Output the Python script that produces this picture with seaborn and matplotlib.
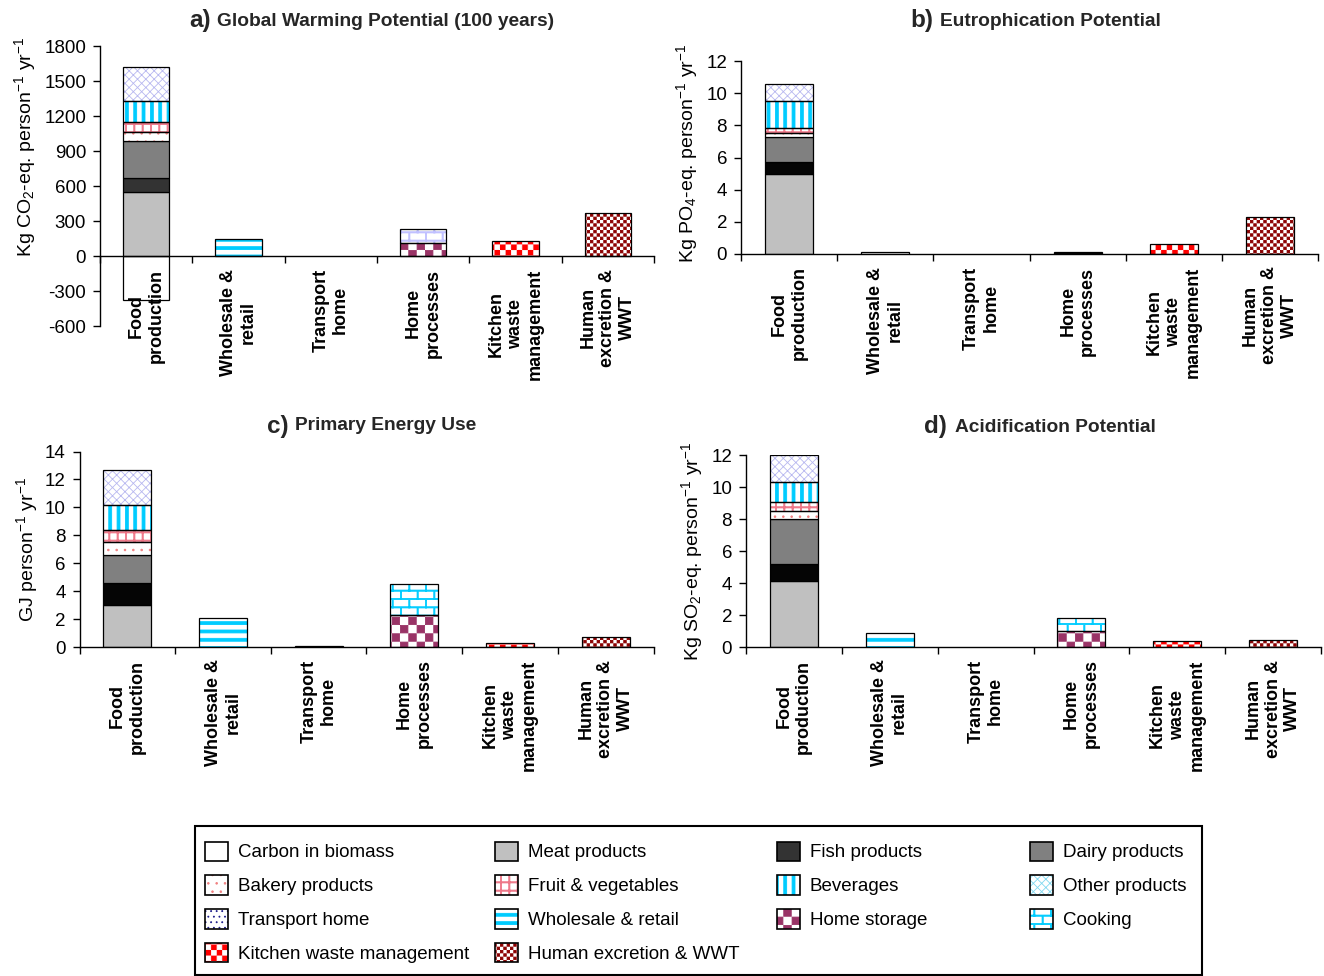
import numpy as np
import pandas as pd
import seaborn as sns
import matplotlib
matplotlib.use("Agg")
import matplotlib.pyplot as plt
import matplotlib.hatch as mhatch
from matplotlib.path import Path
from matplotlib.patches import Patch, Rectangle

# ---------------- data ----------------
stages = ["Food\nproduction", "Wholesale &\nretail", "Transport\nhome",
          "Home\nprocesses", "Kitchen\nwaste\nmanagement", "Human\nexcretion &\nWWT"]

components = ["Carbon in biomass", "Meat products", "Fish products", "Dairy products",
              "Bakery products", "Fruit & vegetables", "Beverages", "Other products",
              "Transport home", "Wholesale & retail", "Home storage", "Cooking",
              "Kitchen waste management", "Human excretion & WWT"]

# food production breakdown: carbon, meat, fish, dairy, bakery, fruit&veg, beverages, other
gwp_food = [-377, 545, 120, 325, 75, 80, 180, 295]
ep_food = [0, 5.0, 0.7, 1.55, 0.25, 0.35, 1.65, 1.05]
pe_food = [0, 3.03, 1.53, 2.03, 0.96, 0.86, 1.74, 2.51]
ap_food = [0, 4.1, 1.09, 2.83, 0.48, 0.58, 1.22, 1.7]

# downstream: transport home, wholesale & retail, home storage, cooking, kitchen waste, human excretion
gwp_chain = [0, 150, 110, 120, 131, 366]
ep_chain = [0, 0.15, 0.05, 0.05, 0.6, 2.3]
pe_chain = [0.1, 2.07, 2.26, 2.26, 0.29, 0.71]
ap_chain = [0, 0.875, 1.02, 0.77, 0.4, 0.45]

chain_stage = [2, 1, 3, 3, 4, 5]


def build_frame(food, chain):
    rows = []
    for comp, v in zip(components[:8], food):
        rows.append((0, comp, v))
    for comp, st, v in zip(components[8:], chain_stage, chain):
        rows.append((st, comp, v))
    return pd.DataFrame(rows, columns=["stage", "component", "value"])


# ---------------- custom filled hatches ----------------
HLW_PT = 0.6                       # global hatch stroke width (points)
INSET = HLW_PT / 72.0 / 2.0        # compensate stroke in unit-tile coords (tile = 1 inch)

RECT_CODES = [Path.MOVETO, Path.LINETO, Path.LINETO, Path.LINETO, Path.CLOSEPOLY]


def put_rect(vertices, codes, k, x0, y0, x1, y1):
    x0 += INSET; y0 += INSET; x1 -= INSET; y1 -= INSET
    vertices[k:k + 5] = [(x0, y0), (x1, y0), (x1, y1), (x0, y1), (x0, y0)]
    codes[k:k + 5] = RECT_CODES
    return k + 5


class CheckerHatch(mhatch.HatchPatternBase):          # '*'
    def __init__(self, hatch, density):
        n = int(hatch.count("*") * density)
        n += n % 2
        self.n = n
        self.num_vertices = (n * n // 2) * 5 if n else 0

    def set_vertices_and_codes(self, vertices, codes):
        s = 1.0 / self.n
        k = 0
        for i in range(self.n):
            for j in range(self.n):
                if (i + j) % 2 == 0:
                    k = put_rect(vertices, codes, k, i * s, j * s, (i + 1) * s, (j + 1) * s)


class VStripeHatch(mhatch.HatchPatternBase):          # '|'
    frac = 0.45

    def __init__(self, hatch, density):
        self.n = int(hatch.count("|") * density)
        self.num_vertices = self.n * 5

    def set_vertices_and_codes(self, vertices, codes):
        k = 0
        for i in range(self.n):
            x0 = i / self.n
            k = put_rect(vertices, codes, k, x0, -0.01, x0 + self.frac / self.n, 1.01)


class HStripeHatch(mhatch.HatchPatternBase):          # '-'
    frac = 0.45

    def __init__(self, hatch, density):
        self.n = int(hatch.count("-") * density)
        self.num_vertices = self.n * 5

    def set_vertices_and_codes(self, vertices, codes):
        k = 0
        for i in range(self.n):
            y0 = i / self.n
            k = put_rect(vertices, codes, k, -0.01, y0, 1.01, y0 + self.frac / self.n)


class GridHatch(mhatch.HatchPatternBase):             # '+'
    lw = 0.02

    def __init__(self, hatch, density):
        self.n = int(hatch.count("+") * density)
        self.num_vertices = self.n * 10

    def set_vertices_and_codes(self, vertices, codes):
        k = 0
        for i in range(self.n):
            p = i / self.n
            k = put_rect(vertices, codes, k, p, -0.01, p + self.lw, 1.01)
            k = put_rect(vertices, codes, k, -0.01, p, 1.01, p + self.lw)


class BrickHatch(mhatch.HatchPatternBase):            # 'o'
    lw = 0.02

    def __init__(self, hatch, density):
        n = int(hatch.count("o") * density)
        n += n % 2
        self.n = n
        self.num_vertices = (n * 5 + n * (n // 2) * 5) if n else 0

    def set_vertices_and_codes(self, vertices, codes):
        h = 1.0 / self.n
        k = 0
        for r in range(self.n):
            y = r * h
            k = put_rect(vertices, codes, k, -0.01, y, 1.01, y + self.lw)
            for c in range(self.n // 2):
                x = c * 2 * h + (r % 2) * h
                k = put_rect(vertices, codes, k, x, y, x + self.lw, y + h)


mhatch._hatch_types = [mhatch.NorthEastHatch, mhatch.SouthEastHatch,
                       mhatch.SmallFilledCircles, mhatch.LargeCircles,
                       CheckerHatch, VStripeHatch, HStripeHatch, GridHatch, BrickHatch]

# ---------------- style ----------------
sns.set_theme(style="ticks")
plt.rcParams["font.family"] = ["Liberation Sans", "DejaVu Sans"]
plt.rcParams["mathtext.fontset"] = "custom"
plt.rcParams["mathtext.rm"] = "Liberation Sans"
plt.rcParams["mathtext.it"] = "Liberation Sans:italic"
plt.rcParams["mathtext.bf"] = "Liberation Sans:bold"
plt.rcParams["axes.unicode_minus"] = False
plt.rcParams["hatch.linewidth"] = HLW_PT

styles = {
    "Carbon in biomass": dict(fc="white"),
    "Meat products": dict(fc="#C0C0C0"),
    "Fish products": dict(fc="#050505"),
    "Dairy products": dict(fc="#808080"),
    "Bakery products": dict(fc="white", hatch="..", hc="#F08080"),
    "Fruit & vegetables": dict(fc="white", hatch="++", hc="#EE7788"),
    "Beverages": dict(fc="white", hatch="||", hc="#00CCFF"),
    "Other products": dict(fc="white", hatch="xxxx", hc="#B8B8F0"),
    "Transport home": dict(fc="white", hatch="...", hc="#1F1F8C"),
    "Wholesale & retail": dict(fc="white", hatch="--", hc="#00CCFF"),
    "Home storage": dict(fc="white", hatch="**", hc="#993366"),
    "Cooking": dict(fc="white", hatch="oo", hc="#00CCFF"),
    "Kitchen waste management": dict(fc="#FF0000", hatch="***", hc="white"),
    "Human excretion & WWT": dict(fc="white", hatch="*****", hc="#8B0000"),
}
legend_override = {"Fish products": dict(fc="#333333"),
                   "Other products": dict(fc="white", hatch="xxxx", hc="#80D8F0")}
panel_a_override = {"Fish products": dict(fc="#333333"),
                    "Cooking": dict(fc="white", hatch="oo", hc="#C0C0FF")}


def draw_segment(ax, x, bottom, height, st):
    if st.get("hatch"):
        ax.bar(x, height, bottom=bottom, width=0.5, color=st["fc"],
               edgecolor=st["hc"], hatch=st["hatch"], linewidth=0, zorder=1)
        ax.bar(x, height, bottom=bottom, width=0.5, fill=False,
               edgecolor="black", linewidth=0.9, zorder=1.5)
    else:
        ax.bar(x, height, bottom=bottom, width=0.5, color=st["fc"],
               edgecolor="black", linewidth=0.9, zorder=1)


fig = plt.figure(figsize=(13.24, 9.76), dpi=100)
W, H = 1324.0, 976.0

panels = [
    dict(food=gwp_food, chain=gwp_chain, rect=(100, 46, 654, 326), ylim=(-600, 1800),
         yticks=np.arange(-600, 1801, 300),
         ylabel=r"Kg CO$_2$-eq. person$^{-1}$ yr$^{-1}$", ylab=(-0.112, 0.64),
         tl="a)", tt="Global Warming Potential (100 years)", tpos=(211, 217, 21), over=panel_a_override),
    dict(food=ep_food, chain=ep_chain, rect=(741, 61, 1318, 254), ylim=(0, 12),
         yticks=np.arange(0, 13, 2),
         ylabel=r"Kg PO$_4$-eq. person$^{-1}$ yr$^{-1}$", ylab=(-0.071, 0.52),
         tl="b)", tt="Eutrophication Potential", tpos=(933, 940, 21), over={}),
    dict(food=pe_food, chain=pe_chain, rect=(79.5, 451.5, 653.5, 647), ylim=(0, 14),
         yticks=np.arange(0, 15, 2),
         ylabel=r"GJ person$^{-1}$ yr$^{-1}$", ylab=(-0.069, 0.5),
         tl="c)", tt="Primary Energy Use", tpos=(289, 295, 426), over={}),
    dict(food=ap_food, chain=ap_chain, rect=(746, 455, 1321, 647), ylim=(0, 12),
         yticks=np.arange(0, 13, 2),
         ylabel=r"Kg SO$_2$-eq. person$^{-1}$ yr$^{-1}$", ylab=(-0.071, 0.5),
         tl="d)", tt="Acidification Potential", tpos=(947, 955, 427), over={}),
]

for p in panels:
    x0, y0, x1, y1 = p["rect"]
    ax = fig.add_axes([x0 / W, 1 - y1 / H, (x1 - x0) / W, (y1 - y0) / H])
    sns.despine(ax=ax)
    ax.spines["bottom"].set_position(("data", 0))
    for s in ("left", "bottom"):
        ax.spines[s].set_color("black")
        ax.spines[s].set_linewidth(1)
    ax.set_facecolor("white")
    ax.set_axisbelow(False)

    df = build_frame(p["food"], p["chain"])
    for st_idx in range(len(stages)):
        sub = df[df["stage"] == st_idx]
        pos = 0.0
        for _, r in sub.iterrows():
            v = r["value"]
            if v == 0:
                continue
            st = dict(styles[r["component"]])
            st.update(p["over"].get(r["component"], {}))
            if v < 0:
                draw_segment(ax, st_idx, 0, v, st)
            else:
                draw_segment(ax, st_idx, pos, v, st)
                pos += v
    ax.set_xlim(-0.5, len(stages) - 0.5)
    ax.set_ylim(*p["ylim"])
    ax.set_yticks(p["yticks"])
    ax.set_yticklabels([str(int(t)) for t in p["yticks"]], fontsize=13.5, color="black")
    ax.set_xticks(range(len(stages)))
    ax.set_xticklabels(stages, rotation=90, fontsize=13, fontweight="bold",
                       ha="center", va="top", multialignment="center", color="black")
    ax.set_xticks(np.arange(-0.5, len(stages), 1.0), minor=True)
    ax.tick_params(axis="x", which="major", length=0, pad=9)
    ax.tick_params(axis="x", which="minor", length=5, width=1, direction="out", color="black")
    ax.tick_params(axis="y", length=5, width=1, direction="out", pad=5, color="black")
    ax.set_ylabel(p["ylabel"], fontsize=14, color="black")
    ax.yaxis.set_label_coords(*p["ylab"])
    xr, xl, ty = p["tpos"]
    fig.text(xr / W, 1 - ty / H, p["tl"], ha="right", va="center", fontsize=17.5, fontweight="bold")
    fig.text(xl / W, 1 - ty / H, p["tt"], ha="left", va="center", fontsize=13.8, fontweight="bold")

# ---------------- legend ----------------
columns = [
    ["Carbon in biomass", "Bakery products", "Transport home", "Kitchen waste management"],
    ["Meat products", "Fruit & vegetables", "Wholesale & retail", "Human excretion & WWT"],
    ["Fish products", "Beverages", "Home storage"],
    ["Dairy products", "Other products", "Cooking"],
]
col_x = [205, 495, 777, 1030]


def legend_handle(comp):
    st = dict(styles[comp])
    st.update(legend_override.get(comp, {}))
    if st.get("hatch"):
        h1 = Patch(facecolor=st["fc"], edgecolor=st["hc"], hatch=st["hatch"], linewidth=0)
        h2 = Patch(fill=False, edgecolor="black", linewidth=1.2)
        return (h1, h2)
    return Patch(facecolor=st["fc"], edgecolor="black", linewidth=1.2)


for cx, col in zip(col_x, columns):
    handles = [legend_handle(c) for c in col]
    leg = fig.legend(handles, col, loc="upper left", bbox_to_anchor=(cx / W, 1 - 841.5 / H),
                     frameon=False, fontsize=13.5, handlelength=1.25, handleheight=1.2,
                     handletextpad=0.5, labelspacing=0.745, borderpad=0, borderaxespad=0)
    for t in leg.get_texts():
        t.set_color("black")

fig.add_artist(Rectangle((195 / W, 1 / H), 1007 / W, 149 / H, transform=fig.transFigure,
                         fill=False, edgecolor="black", linewidth=1.5))

fig.savefig("out.png", dpi=100, facecolor="white")
